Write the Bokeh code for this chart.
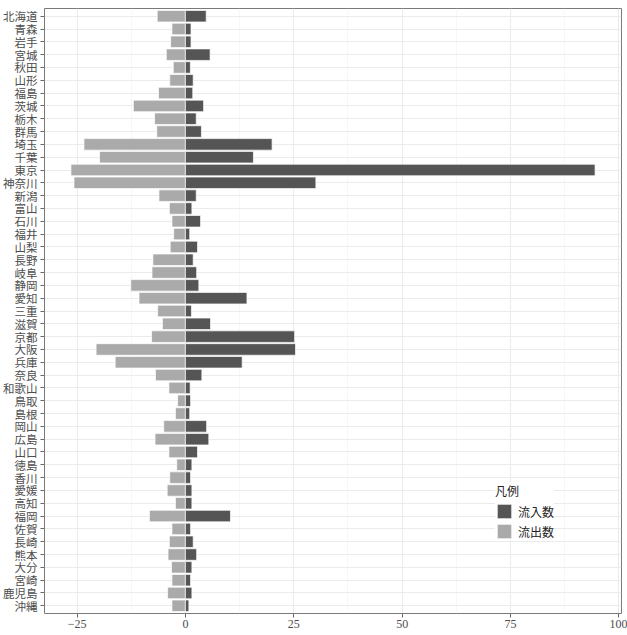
from bokeh.plotting import figure
from bokeh.models import ColumnDataSource, FactorRange, FixedTicker, Legend, LegendItem, Range1d
from bokeh.embed import file_html
from bokeh.resources import INLINE

# 都道府県別の流入数・流出数
prefectures = [
    "北海道", "青森", "岩手", "宮城", "秋田", "山形", "福島", "茨城", "栃木", "群馬",
    "埼玉", "千葉", "東京", "神奈川", "新潟", "富山", "石川", "福井", "山梨", "長野",
    "岐阜", "静岡", "愛知", "三重", "滋賀", "京都", "大阪", "兵庫", "奈良", "和歌山",
    "鳥取", "島根", "岡山", "広島", "山口", "徳島", "香川", "愛媛", "高知", "福岡",
    "佐賀", "長崎", "熊本", "大分", "宮崎", "鹿児島", "沖縄",
]
inflow = [
    4.8, 1.3, 1.3, 5.7, 1.15, 1.8, 1.7, 4.2, 2.5, 3.7,
    20.0, 15.7, 94.5, 30.1, 2.5, 1.5, 3.5, 1.0, 2.8, 1.8,
    2.6, 3.1, 14.2, 1.4, 5.8, 25.2, 25.4, 13.1, 3.8, 1.1,
    1.2, 1.0, 4.9, 5.4, 2.8, 1.5, 1.2, 1.5, 1.5, 10.4,
    1.2, 1.8, 2.6, 1.5, 1.2, 1.5, 0.8,
]
outflow = [
    6.5, 3.1, 3.4, 4.4, 2.8, 3.6, 6.2, 12.0, 7.1, 6.6,
    23.4, 19.8, 26.4, 25.7, 6.1, 3.7, 3.1, 2.7, 3.5, 7.5,
    7.7, 12.6, 10.7, 6.4, 5.3, 7.8, 20.6, 16.2, 6.9, 3.8,
    1.8, 2.3, 5.0, 7.0, 3.8, 2.0, 3.6, 4.2, 2.3, 8.3,
    3.1, 3.7, 4.0, 3.2, 3.1, 4.1, 3.1,
]
x_ticks = [-25, 0, 25, 50, 75, 100]

src = ColumnDataSource(dict(
    pref=prefectures,
    inflow=inflow,
    outflow_neg=[-v for v in outflow],
    zero=[0] * len(prefectures),
))

JP_FONT = "Noto Sans CJK JP"
NUM_FONT = "Liberation Serif"

p = figure(
    width=627, height=635,
    output_backend="svg", toolbar_location=None,
    x_range=Range1d(-32.5, 100.6),
    y_range=FactorRange(factors=list(reversed(prefectures)),
                        range_padding=0.1, range_padding_units="absolute"),
    min_border_left=44, min_border_right=6, min_border_top=8, min_border_bottom=22,
    background_fill_color="white", border_fill_color="white",
)

r_out = p.hbar(y="pref", left="outflow_neg", right="zero", height=0.9, source=src,
               fill_color="#aaaaaa", line_color="white", line_width=0.7)
r_in = p.hbar(y="pref", left="zero", right="inflow", height=0.9, source=src,
              fill_color="#555555", line_color="white", line_width=0.7)

# frame and grid
p.outline_line_color = "#7a7a7a"
p.outline_line_width = 1
p.xaxis.ticker = FixedTicker(ticks=x_ticks, minor_ticks=[-12.5, 12.5, 37.5, 62.5, 87.5])
p.xgrid.grid_line_color = "#ebebeb"
p.xgrid.grid_line_width = 1
p.xgrid.minor_grid_line_color = "#f2f2f2"
p.xgrid.minor_grid_line_width = 0.6
p.ygrid.grid_line_color = "#ebebeb"
p.ygrid.grid_line_width = 1

# axes
for ax in (p.xaxis, p.yaxis):
    ax.axis_line_color = None
    ax.major_tick_line_color = "#666666"
    ax.major_tick_out = 4
    ax.major_tick_in = 0
    ax.minor_tick_line_color = None
    ax.major_label_text_color = "#4d4d4d"
p.xaxis.major_label_overrides = {-25: "\u221225"}
p.xaxis.major_label_text_font = NUM_FONT
p.xaxis.major_label_text_font_size = "12px"
p.xaxis.major_label_standoff = 2
p.yaxis.major_label_text_font = JP_FONT
p.yaxis.major_label_text_font_size = "11.5px"
p.yaxis.major_label_standoff = 3

legend = Legend(
    items=[LegendItem(label="流入数", renderers=[r_in]),
           LegendItem(label="流出数", renderers=[r_out])],
    title="凡例",
    location=(451, 73),
    title_text_font=JP_FONT, title_text_font_size="12px", title_text_font_style="normal",
    title_text_color="#222222", title_standoff=3,
    label_text_font=JP_FONT, label_text_font_size="12px", label_text_color="#222222",
    label_standoff=5, glyph_width=18, glyph_height=18, spacing=2,
    padding=6, margin=0, border_line_color=None, background_fill_color="white",
    background_fill_alpha=1.0,
)
p.add_layout(legend)

open("out.html", "w").write(file_html(p, INLINE))
